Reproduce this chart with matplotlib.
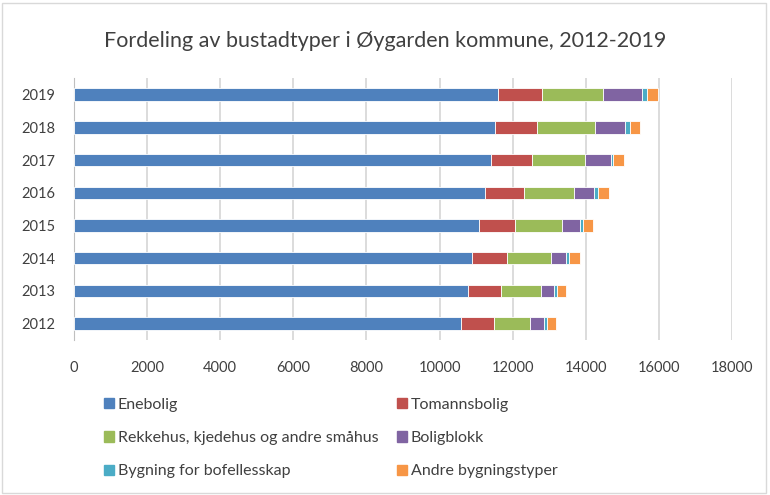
import numpy as np
import matplotlib.pyplot as plt
from matplotlib.patches import Rectangle, Patch

plt.rcParams['font.family'] = ['Lato', 'DejaVu Sans']

years = ['2012', '2013', '2014', '2015', '2016', '2017', '2018', '2019']
enebolig = [10600, 10780, 10900, 11080, 11240, 11400, 11516, 11600]
tomannsbolig = [880, 910, 950, 986, 1059, 1123, 1160, 1200]
rekkehus = [995, 1077, 1196, 1278, 1378, 1444, 1580, 1666]
boligblokk = [375, 375, 420, 503, 540, 712, 831, 1074]
bofelles = [80, 73, 82, 82, 110, 73, 118, 130]
andre = [245, 246, 284, 283, 301, 292, 283, 320]

names = ['Enebolig', 'Tomannsbolig', 'Rekkehus, kjedehus og andre småhus',
         'Boligblokk', 'Bygning for bofellesskap', 'Andre bygningstyper']
series = [enebolig, tomannsbolig, rekkehus, boligblokk, bofelles, andre]
colors = ['#4F81BD', '#C0504D', '#9BBB59', '#8064A2', '#4BACC6', '#F79646']

fig = plt.figure(figsize=(7.7, 4.95), dpi=100)
ax = fig.add_axes([0.0961, 0.313, 0.8545, 0.529])

y = np.arange(len(years))
left = np.zeros(len(years))
for vals, name, c in zip(series, names, colors):
    ax.barh(y, vals, left=left, height=0.38, color=c, edgecolor='white',
            linewidth=0.6, label=name, zorder=3)
    left += np.array(vals)

ax.set_xlim(0, 18000)
ax.set_ylim(-0.5, 7.5)
ax.set_xticks(np.arange(0, 18001, 2000))
ax.set_yticks(y)
ax.set_yticklabels(years)
ax.grid(axis='x', color='#d9d9d9', linewidth=1.3, zorder=0)
for s in ['top', 'right', 'bottom']:
    ax.spines[s].set_visible(False)
ax.spines['left'].set_color('#bfbfbf')
ax.tick_params(axis='y', length=0, pad=13.5, labelsize=10.5, labelcolor='#404040')
ax.tick_params(axis='x', length=0, pad=15, labelsize=10.5, labelcolor='#404040')

fig.text(0.5, 0.918, 'Fordeling av bustadtyper i Øygarden kommune, 2012-2019',
         ha='center', va='center', fontsize=15.5, color='#404040')

handles = [Patch(color=c) for c in colors]
order = [0, 2, 4, 1, 3, 5]
fig.legend([handles[i] for i in order], [names[i] for i in order], ncol=2,
           loc='upper left', bbox_to_anchor=(0.135, 0.196), frameon=False,
           borderpad=0, borderaxespad=0,
           fontsize=11.5, labelcolor='#404040', handlelength=0.6,
           handleheight=0.6, handletextpad=0.25, columnspacing=1.2,
           labelspacing=1.2)

fig.patches.append(Rectangle((0.002, 0.004), 0.993, 0.99, transform=fig.transFigure,
                             fill=False, edgecolor='#d9d9d9', linewidth=1))

fig.savefig('out.png', dpi=100)
